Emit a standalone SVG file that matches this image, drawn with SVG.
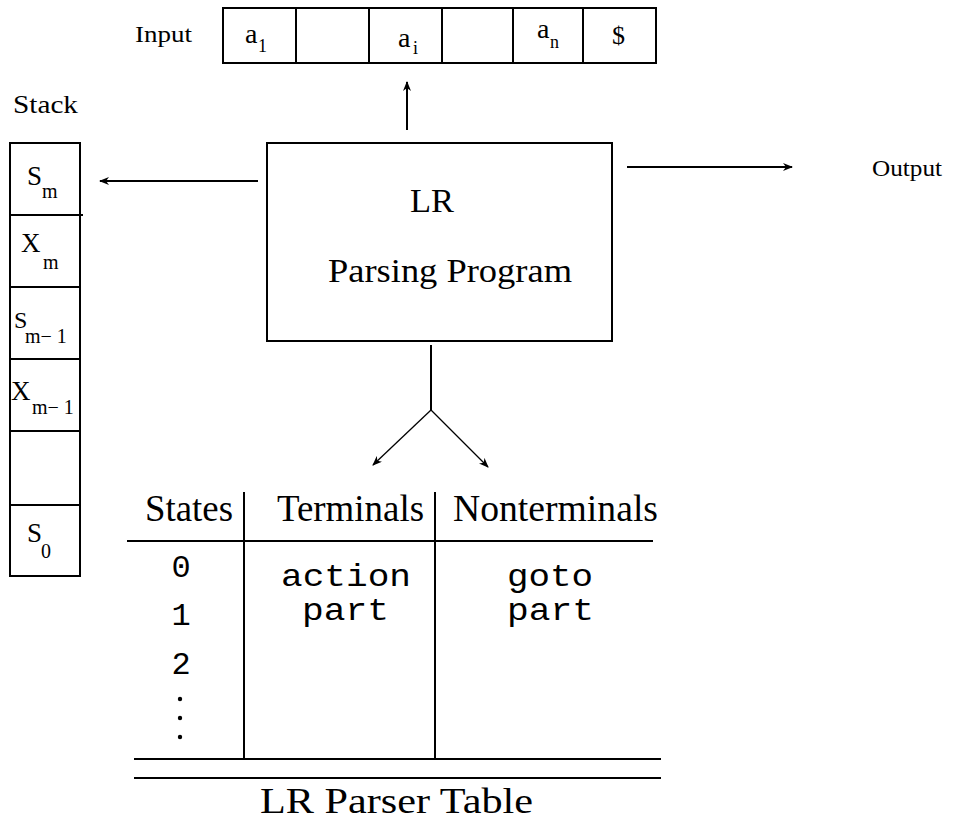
<svg xmlns="http://www.w3.org/2000/svg" width="955" height="820" viewBox="0 0 955 820">
<defs>
<style>
.ln{stroke:#000;stroke-width:2;fill:none}
.thin{stroke:#000;stroke-width:1.3;fill:none}
.sf{font-family:"Liberation Serif","Times New Roman",serif;fill:#000}
.mono{font-family:"Liberation Mono","Courier New",monospace;fill:#000;font-size:32px}
</style>
<marker id="ah" viewBox="0 0 10 8" refX="9" refY="4" markerWidth="10" markerHeight="8" markerUnits="userSpaceOnUse" orient="auto">
<path d="M0,0 L10,4 L0,8 L3,4 Z" fill="#000"/>
</marker>
</defs>
<rect width="955" height="820" fill="#fff"/>

<g id="input">
<text class="sf" x="135" y="42" font-size="24" textLength="57" lengthAdjust="spacingAndGlyphs">Input</text>
<rect class="ln" x="223" y="8" width="433" height="55"/>
<line class="ln" x1="296" y1="8" x2="296" y2="63"/>
<line class="ln" x1="369" y1="8" x2="369" y2="63"/>
<line class="ln" x1="442" y1="8" x2="442" y2="63"/>
<line class="ln" x1="513" y1="8" x2="513" y2="63"/>
<line class="ln" x1="583" y1="8" x2="583" y2="63"/>
<text class="sf" x="245" y="43" font-size="28">a</text>
<text class="sf" x="258" y="52" font-size="18">1</text>
<text class="sf" x="398" y="47" font-size="28">a</text>
<text class="sf" x="413" y="54" font-size="18">i</text>
<text class="sf" x="537" y="38" font-size="28">a</text>
<text class="sf" x="550" y="48" font-size="18">n</text>
<text class="sf" x="612" y="44" font-size="26">$</text>
</g>

<g id="stack">
<text class="sf" x="13" y="113" font-size="25" textLength="65" lengthAdjust="spacingAndGlyphs">Stack</text>
<rect class="ln" x="10" y="143" width="70" height="433"/>
<line class="ln" x1="10" y1="215" x2="83" y2="215"/>
<line class="ln" x1="10" y1="287" x2="80" y2="287"/>
<line class="ln" x1="10" y1="359" x2="80" y2="359"/>
<line class="ln" x1="10" y1="431" x2="80" y2="431"/>
<line class="ln" x1="10" y1="505" x2="80" y2="505"/>
<text class="sf" x="27" y="185" font-size="27">S</text>
<text class="sf" x="42" y="198" font-size="20">m</text>
<text class="sf" x="21" y="252" font-size="27">X</text>
<text class="sf" x="43" y="269" font-size="20">m</text>
<text class="sf" x="14" y="328" font-size="24">S</text>
<text class="sf" x="25" y="343" font-size="20">m− 1</text>
<text class="sf" x="11" y="400" font-size="27">X</text>
<text class="sf" x="32" y="414" font-size="20">m− 1</text>
<text class="sf" x="27" y="542" font-size="27">S</text>
<text class="sf" x="41" y="558" font-size="20">0</text>
</g>

<g id="program">
<rect class="ln" x="267" y="143" width="345" height="198"/>
<text class="sf" x="410" y="212" font-size="33" textLength="44" lengthAdjust="spacingAndGlyphs">LR</text>
<text class="sf" x="328" y="282" font-size="33" textLength="244" lengthAdjust="spacingAndGlyphs">Parsing Program</text>
</g>

<g id="output">
<text class="sf" x="872" y="176" font-size="24" textLength="70" lengthAdjust="spacingAndGlyphs">Output</text>
</g>

<g id="table">
<text class="sf" x="145" y="521" font-size="37" textLength="88" lengthAdjust="spacingAndGlyphs">States</text>
<text class="sf" x="277" y="521" font-size="37" textLength="147" lengthAdjust="spacingAndGlyphs">Terminals</text>
<text class="sf" x="453" y="521" font-size="37" textLength="205" lengthAdjust="spacingAndGlyphs">Nonterminals</text>
<line class="ln" x1="127" y1="541" x2="653" y2="541"/>
<line class="ln" x1="244" y1="492" x2="244" y2="759"/>
<line class="ln" x1="435" y1="492" x2="435" y2="759"/>
<line class="ln" x1="134" y1="759" x2="661" y2="759"/>
<line class="ln" x1="134" y1="778" x2="661" y2="778"/>
<text class="mono" x="181" y="577" text-anchor="middle">0</text>
<text class="mono" x="181" y="625" text-anchor="middle">1</text>
<text class="mono" x="181" y="674" text-anchor="middle">2</text>
<circle cx="180" cy="699" r="2.2" fill="#000"/>
<circle cx="180" cy="718" r="2.2" fill="#000"/>
<circle cx="180" cy="737" r="2.2" fill="#000"/>
<text class="mono" x="281" y="586" textLength="130" lengthAdjust="spacingAndGlyphs">action</text>
<text class="mono" x="302" y="620" textLength="87" lengthAdjust="spacingAndGlyphs">part</text>
<text class="mono" x="507" y="586" textLength="86" lengthAdjust="spacingAndGlyphs">goto</text>
<text class="mono" x="507" y="620" textLength="87" lengthAdjust="spacingAndGlyphs">part</text>
<text class="sf" x="260" y="813" font-size="35" textLength="273" lengthAdjust="spacingAndGlyphs">LR Parser Table</text>
</g>

<g id="connectors">
<line class="ln" x1="407" y1="130" x2="407" y2="82" marker-end="url(#ah)"/>
<line class="ln" x1="258" y1="181" x2="100" y2="181" marker-end="url(#ah)"/>
<line class="ln" x1="627" y1="167" x2="792" y2="167" marker-end="url(#ah)"/>
<line class="ln" x1="431" y1="345" x2="431" y2="410"/>
<line class="thin" x1="431" y1="410" x2="373" y2="465" marker-end="url(#ah)"/>
<line class="thin" x1="431" y1="410" x2="488" y2="467" marker-end="url(#ah)"/>
</g>
</svg>
